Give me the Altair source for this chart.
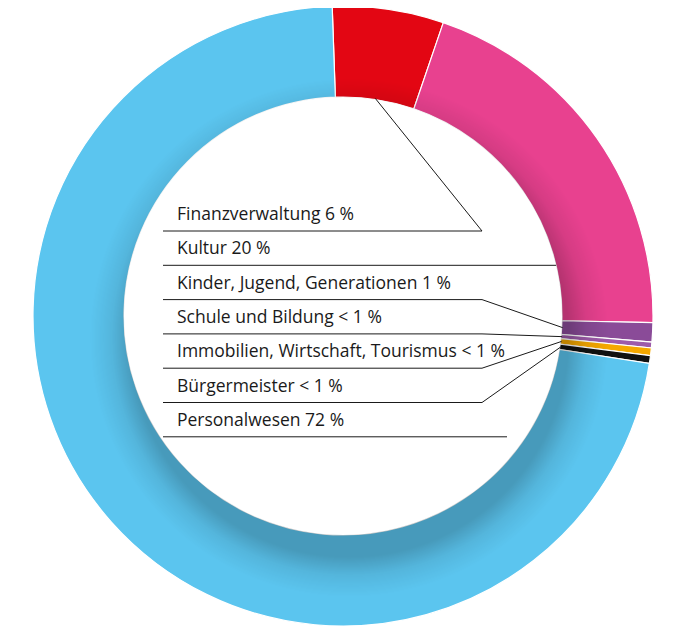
import math
import altair as alt
import pandas as pd

# ---- data ----
categories = ["Finanzverwaltung", "Kultur", "Kinder, Jugend, Generationen",
              "Schule und Bildung", "Immobilien, Wirtschaft, Tourismus",
              "Bürgermeister", "Personalwesen"]
values = [5.8, 20.1, 1.0, 0.3, 0.4, 0.4, 72.0]
shares = ["6 %", "20 %", "1 %", "< 1 %", "< 1 %", "< 1 %", "72 %"]
colors = ["#E30613", "#E8418F", "#8A4B98", "#9D5BAA", "#F5A800", "#111111", "#5BC5EF"]

# ---- layout ----
W, H = 658, 618
CX, CY = 335, 308
R_OUT, R_IN = 310, 219
START = math.radians(-2.0)
LINE_X0 = 155
TEXT_X = 169
ROW0 = 223
ROW_STEP = 34.3
BEND_X = 474
LAST_END_X = 499
FONT = "Open Sans"

total = sum(values)
arc_df = pd.DataFrame({"cat": categories, "value": values,
                       "order": list(range(len(values)))})

# leader-line geometry, derived from the data angles
pts = []
txt = []
cum = 0.0
for i, (c, v, s) in enumerate(zip(categories, values, shares)):
    mid = START + 2 * math.pi * (cum + v / 2) / total
    cum += v
    yl = ROW0 + ROW_STEP * i
    txt.append({"t": f"{c} {s}", "x": TEXT_X, "y": yl - 11})
    path = [(LINE_X0, yl)]
    if c == "Kultur":
        path.append((CX + math.sqrt(R_IN ** 2 - (yl - CY) ** 2), yl))
    elif c == "Personalwesen":
        path.append((LAST_END_X, yl))
    else:
        path.append((BEND_X, yl))
        path.append((CX + (R_IN + 1) * math.sin(mid), CY - (R_IN + 1) * math.cos(mid)))
    for k, (px, py) in enumerate(path):
        pts.append({"cat": c, "k": k, "x": px, "y": py})

lines_df = pd.DataFrame(pts)
text_df = pd.DataFrame(txt)

xs = alt.Scale(domain=[0, W], nice=False, zero=False)
ys = alt.Scale(domain=[0, H], nice=False, zero=False, reverse=True)

arcs = alt.Chart(arc_df).mark_arc(
    innerRadius=R_IN, outerRadius=R_OUT, stroke="white", strokeWidth=1.2
).encode(
    theta=alt.Theta("value:Q", stack=True,
                    scale=alt.Scale(domain=[0, total], range=[START, START + 2 * math.pi])),
    color=alt.Color("cat:N", scale=alt.Scale(domain=categories, range=colors), legend=None),
    order=alt.Order("order:Q"),
    x=alt.value(CX), y=alt.value(CY),
)

# soft inner shadow cast by the hole onto the ring (lower right)
inner_off = R_IN / R_OUT * 1.0
shadow = alt.Chart(pd.DataFrame({"s": [1]})).mark_arc(
    innerRadius=R_IN, outerRadius=R_OUT, theta=0, theta2=2 * math.pi,
    fill=alt.RadialGradient(
        gradient="radial",
        x1=0.51, y1=0.535, r1=0, x2=0.51, y2=0.535, r2=0.5,
        stops=[
            alt.GradientStop(offset=0, color="rgba(0,0,0,0.22)"),
            alt.GradientStop(offset=inner_off, color="rgba(0,0,0,0.22)"),
            alt.GradientStop(offset=inner_off + 0.06, color="rgba(0,0,0,0.08)"),
            alt.GradientStop(offset=inner_off + 0.13, color="rgba(0,0,0,0)"),
            alt.GradientStop(offset=1, color="rgba(0,0,0,0)"),
        ],
    ),
).encode(x=alt.value(CX), y=alt.value(CY))

lines = alt.Chart(lines_df).mark_line(color="#1a1a1a", strokeWidth=1).encode(
    x=alt.X("x:Q", scale=xs, axis=None),
    y=alt.Y("y:Q", scale=ys, axis=None),
    detail="cat:N",
    order="k:Q",
)

texts = alt.Chart(text_df).mark_text(
    align="left", baseline="alphabetic", font=FONT, fontSize=17.5, color="#1a1a1a"
).encode(
    x=alt.X("x:Q", scale=xs, axis=None),
    y=alt.Y("y:Q", scale=ys, axis=None),
    text="t:N",
)

chart = alt.layer(arcs, shadow, lines, texts).properties(
    width=W, height=H, autosize=alt.AutoSizeParams(type="none"), padding=0
).configure_view(stroke=None)

chart.save("out.html", embed_options={"renderer": "svg", "actions": False})
